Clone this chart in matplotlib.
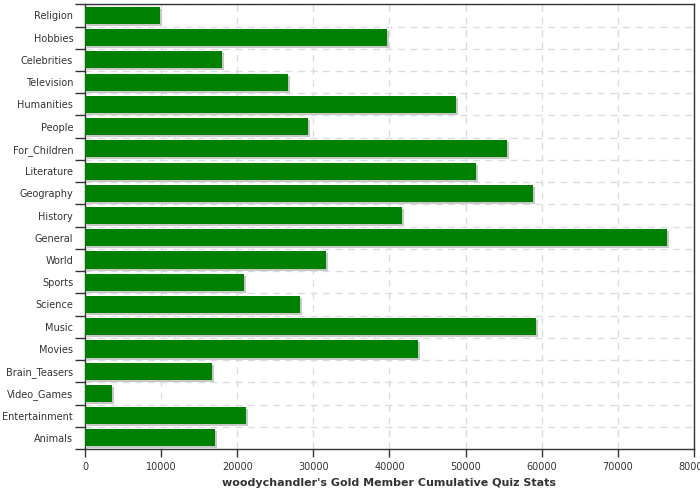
import matplotlib
matplotlib.use("Agg")
import matplotlib.pyplot as plt
from matplotlib.transforms import ScaledTranslation
import numpy as np

categories = ["Religion", "Hobbies", "Celebrities", "Television", "Humanities",
              "People", "For_Children", "Literature", "Geography", "History",
              "General", "World", "Sports", "Science", "Music", "Movies",
              "Brain_Teasers", "Video_Games", "Entertainment", "Animals"]
values = [9900, 39700, 18000, 26700, 48700, 29300, 55400, 51400, 58900, 41700,
          76400, 31700, 20900, 28200, 59200, 43700, 16700, 3500, 21200, 17100]
xticks = [0, 10000, 20000, 30000, 40000, 50000, 60000, 70000, 80000]
title = "woodychandler's Gold Member Cumulative Quiz Stats"

fig = plt.figure(figsize=(7, 5), dpi=100)
ax = fig.add_axes([0.1214, 0.102, 0.87, 0.8894])

n = len(categories)
ypos = np.arange(n)[::-1]  # Religion on top

shadow = ax.transData + ScaledTranslation(2/100, -2/100, fig.dpi_scale_trans)
ax.barh(ypos, values, height=0.77, color="#c8c8c8", transform=shadow, zorder=2)
ax.barh(ypos, values, height=0.77, color="#008000", zorder=3)

ax.set_xlim(0, 80000)
ax.set_ylim(-0.5, n - 0.5)
ax.set_xticks(xticks)
ax.set_xticklabels([str(t) for t in xticks], fontsize=7, color="#333333")

ax.set_yticks(np.arange(n + 1) - 0.5)
ax.set_yticklabels([])
ax.set_yticks(ypos, minor=True)
ax.set_yticklabels(categories, minor=True, fontsize=7, color="#333333")
ax.tick_params(axis="y", which="minor", length=0, pad=8.5)
ax.tick_params(axis="y", which="major", length=7.2, width=1, color="#333333", direction="out")
ax.tick_params(axis="x", length=6, width=1, color="#333333", direction="out", pad=3)

ax.grid(True, which="major", axis="both", color="#dadde0", linestyle=(0, (5, 4)), linewidth=1, zorder=0)
ax.set_axisbelow(True)
for s in ax.spines.values():
    s.set_color("#333333")
    s.set_linewidth(1)

ax.set_xlabel(title, fontsize=8, fontweight="bold", color="#333333", labelpad=5)

fig.savefig("out.png", dpi=100)
